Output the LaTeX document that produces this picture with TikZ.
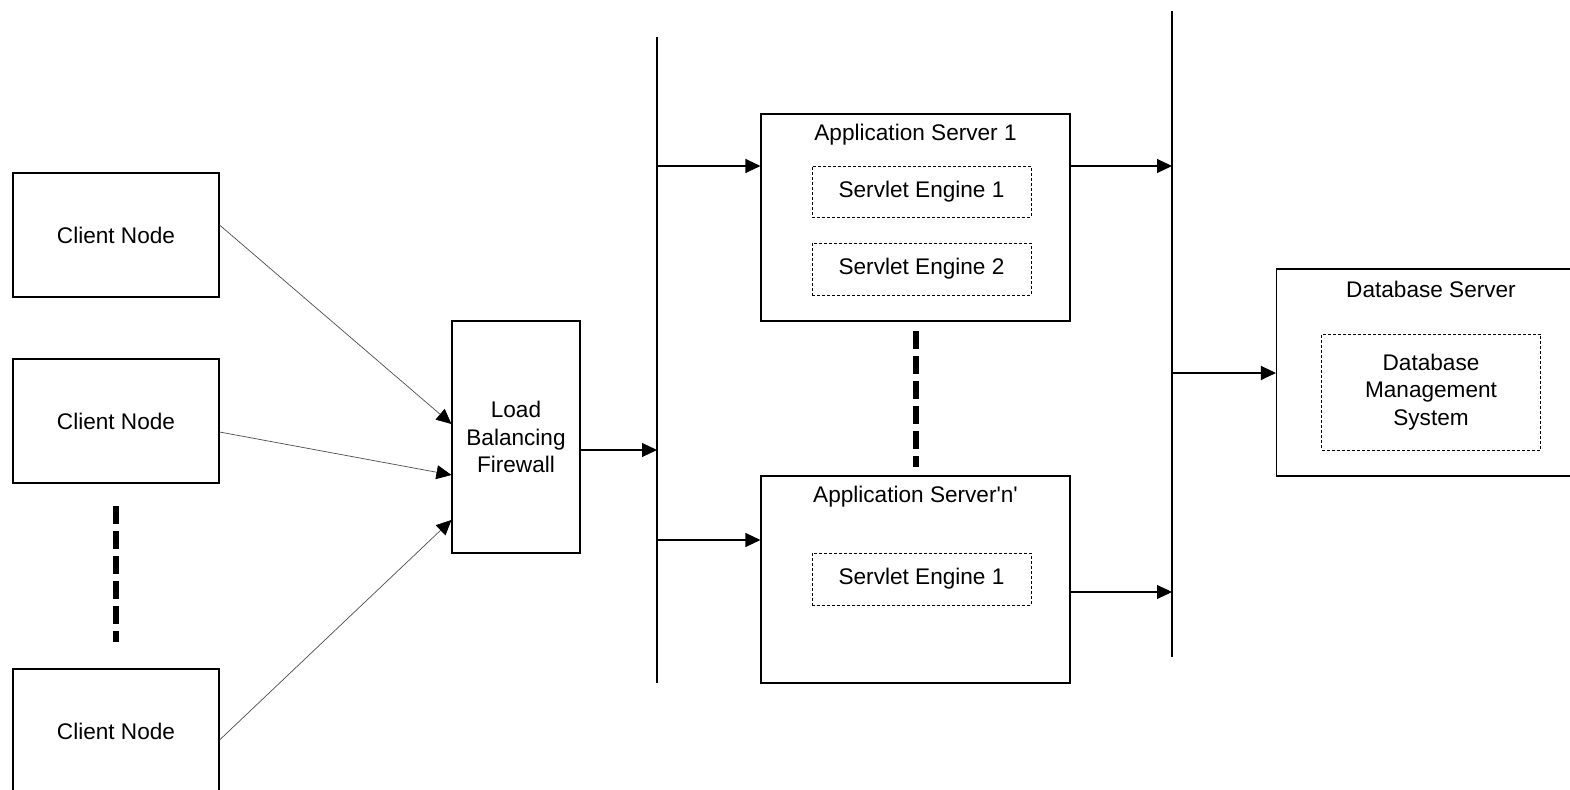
\documentclass[tikz,border=0pt]{standalone}
\usepackage{fontspec}
\newfontfamily\lsans{Liberation Sans}
\usetikzlibrary{arrows.meta}
\tikzset{
  box/.style={draw, line width=0.55pt, rectangle, inner sep=0pt},
  inbox/.style={draw, dashed, dash pattern=on 1.5pt off 1pt, line width=0.45pt, rectangle,
    inner sep=0pt, minimum width=109.5pt, align=center},
  lbl/.style={inner sep=0pt, align=center, font=\lsans\fontsize{11.3pt}{13.75pt}\selectfont},
  arr/.style={line width=0.55pt, -{Triangle[length=7.5pt,width=7pt]}},
  thinarr/.style={line width=0.35pt, draw=black!70, -{Triangle[length=7.5pt,width=7pt,color=black]}},
  bus/.style={line width=0.55pt},
  gap/.style={line width=3pt, dash pattern=on 9pt off 3.5pt},
}
\begin{document}
\begin{tikzpicture}[x=0.5pt, y=-0.5pt, font=\lsans\fontsize{11.3pt}{13.75pt}\selectfont]
\useasboundingbox (0,0) rectangle (1570,790);
\clip (0,0) rectangle (1570,790);

% client nodes
\node[box, lbl, minimum width=103pt, minimum height=62pt] (c1) at (116,235) {Client Node};
\node[box, lbl, minimum width=103pt, minimum height=62pt] (c2) at (116,421) {Client Node};
\node[box, lbl, minimum width=103pt, minimum height=62pt] (c3) at (116,731) {Client Node};
\coordinate (g1a) at (116,506);
\coordinate (g1b) at (116,642);
\draw[gap] (g1a) -- (g1b);

% load balancer
\node[box, lbl, minimum width=64pt, minimum height=116pt] (lb) at (516,437) {Load\\Balancing\\Firewall};

\draw[thinarr] ([yshift=5pt]c1.east) -- ([yshift=6.5pt]lb.west);
\draw[thinarr] ([yshift=-5.5pt]c2.east) -- ([yshift=-19pt]lb.west);
\draw[thinarr] ([yshift=-4.5pt]c3.east) -- ([yshift=-41.5pt]lb.west);

% first bus
\coordinate (b1t) at (657,37);
\coordinate (b1b) at (657,683);
\draw[bus] (b1t) -- (b1b);
\coordinate (lbo) at (580,450);
\draw[arr] (lbo) -- (lbo -| b1t);

% application servers
\node[box, minimum width=154.5pt, minimum height=103.5pt] (as1) at (915.5,217.5) {};
\node[lbl, anchor=center] (as1t) at (915.5,134.5) {Application Server 1};
\node[inbox, lbl, minimum height=25.5pt] (se1) at (921.5,191.5) {Servlet Engine 1};
\node[inbox, lbl, minimum height=26pt] (se2) at (921.5,269) {Servlet Engine 2};

\node[box, minimum width=154.5pt, minimum height=103.5pt] (asn) at (915.5,579.5) {};
\node[lbl, anchor=center] (asnt) at (915.5,496.5) {Application Server'n'};
\node[inbox, lbl, minimum height=26pt] (sen) at (921.5,579) {Servlet Engine 1};

\coordinate (g2a) at (916,331);
\coordinate (g2b) at (916,467);
\draw[gap] (g2a) -- (g2b);

\coordinate (p1) at (657,166);
\coordinate (p2) at (657,540);
\draw[arr] (p1) -- (p1 -| as1.west);
\draw[arr] (p2) -- (p2 -| asn.west);

% second bus
\coordinate (b2t) at (1172,11);
\coordinate (b2b) at (1172,657);
\draw[bus] (b2t) -- (b2b);
\coordinate (q1) at (1070,166);
\coordinate (q2) at (1070,592);
\draw[arr] (q1) -- (q1 -| b2t);
\draw[arr] (q2) -- (q2 -| b2t);

% database server
\node[box, minimum width=154.5pt, minimum height=103.5pt] (db) at (1431,372.5) {};
\node[lbl, anchor=center] (dbt) at (1431,289.5) {Database Server};
\node[inbox, lbl, minimum height=58pt] (dbms) at (1431,392) {Database\\Management\\System};
\coordinate (r1) at (1172,373);
\draw[arr] (r1) -- (r1 -| db.west);
\end{tikzpicture}
\end{document}
